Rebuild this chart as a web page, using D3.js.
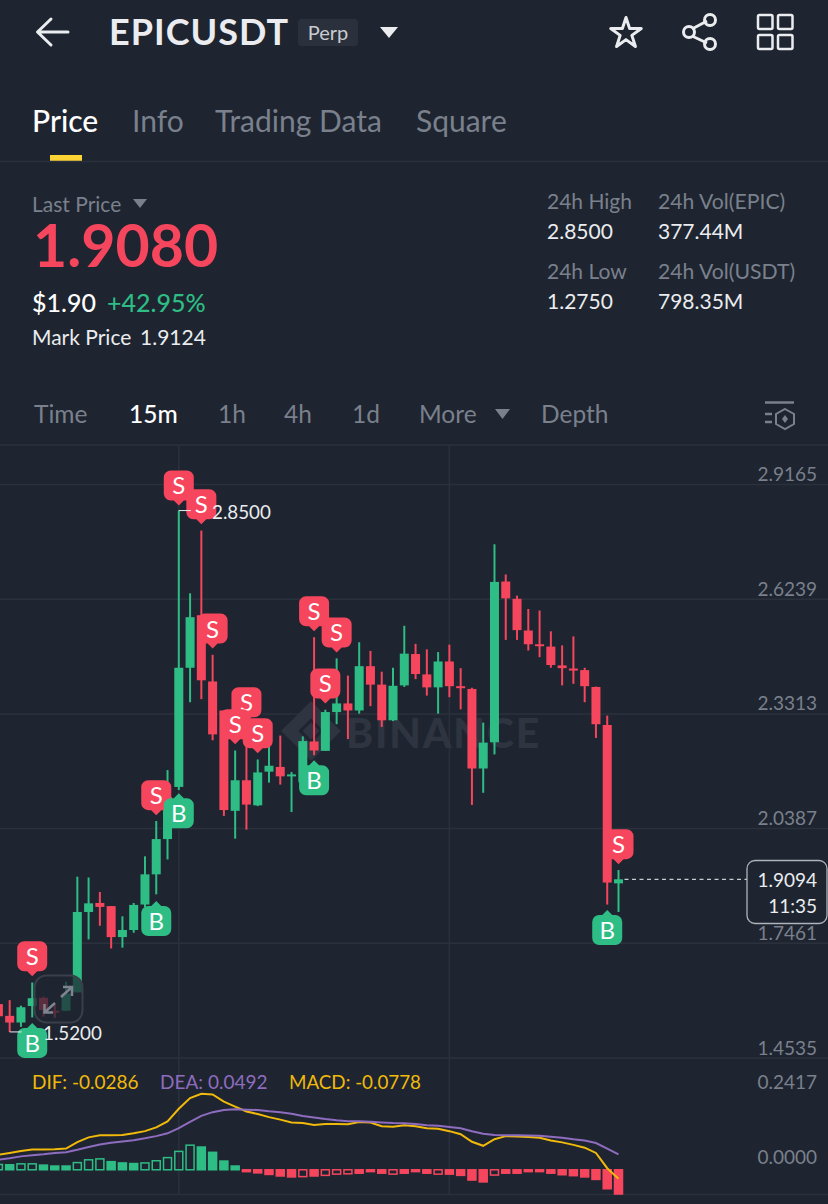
<!DOCTYPE html>
<html>
<head>
<meta charset="utf-8">
<script src="https://cdn.jsdelivr.net/npm/d3@7"></script>
<style>
  html, body { margin: 0; padding: 0; background: #1E2530; }
  svg { display: block; }
  text { font-family: "Lato", sans-serif; }
</style>
</head>
<body>
<svg></svg>
<script>
let candleOpen = [1.591,1.561,1.544,1.586,1.607,1.574,1.574,1.621,1.826,1.849,1.841,1.762,1.780,1.845,1.922,2.012,2.145,2.449,2.583,2.414,2.340,2.084,2.162,2.098,2.184,2.196,2.172,2.157,2.261,2.237,2.336,2.358,2.340,2.453,2.406,2.315,2.404,2.484,2.432,2.399,2.465,2.402,2.395,2.192,2.259,2.669,2.625,2.544,2.509,2.503,2.455,2.447,2.443,2.400,2.303,1.899];
let candleHigh = [1.599,1.601,1.587,1.646,1.610,1.589,1.648,1.916,1.914,1.877,1.841,1.815,1.849,1.968,2.058,2.188,2.850,2.639,2.799,2.482,2.340,2.238,2.256,2.215,2.247,2.276,2.183,2.274,2.527,2.342,2.473,2.429,2.514,2.492,2.439,2.449,2.556,2.510,2.496,2.489,2.508,2.448,2.398,2.309,2.764,2.687,2.633,2.599,2.595,2.542,2.506,2.529,2.449,2.401,2.327,1.933];
let candleLow = [1.553,1.520,1.533,1.557,1.559,1.556,1.574,1.621,1.756,1.791,1.733,1.735,1.773,1.838,1.871,1.960,2.137,2.361,2.369,2.264,2.071,2.013,2.036,2.096,2.156,2.151,2.081,2.157,2.226,2.237,2.305,2.267,2.332,2.351,2.298,2.313,2.400,2.420,2.378,2.332,2.374,2.343,2.099,2.130,2.228,2.520,2.520,2.493,2.476,2.449,2.404,2.408,2.361,2.270,1.845,1.826];
let candleClose = [1.560,1.544,1.583,1.606,1.576,1.571,1.618,1.826,1.848,1.839,1.762,1.780,1.844,1.922,2.012,2.119,2.449,2.578,2.417,2.279,2.086,2.162,2.100,2.182,2.199,2.172,2.177,2.262,2.238,2.336,2.358,2.340,2.453,2.406,2.315,2.403,2.485,2.433,2.399,2.465,2.402,2.397,2.192,2.258,2.668,2.626,2.545,2.509,2.505,2.456,2.448,2.442,2.402,2.305,1.901,1.9094];

let macdHist = [.017,.016,.019,.019,.015,.012,.012,.023,.032,.035,.026,.022,.020,.022,.029,.039,.059,.079,.073,.056,.028,.012,-.006,-.010,-.015,-.020,-.023,-.022,-.020,-.018,-.014,-.013,-.011,-.006,-.011,-.014,-.011,-.006,-.011,-.014,-.014,-.018,-.033,-.039,-.017,-.011,-.011,-.006,-.006,-.011,-.016,-.019,-.023,-.031,-.061,-.0778];
let macdHollow = [0,2,3,7,8,9,13,14,15,16,17,27,29,30,31,35,39,44];
let dif = [.048,.054,.060,.065,.065,.066,.068,.089,.104,.111,.111,.112,.117,.124,.136,.155,.196,.230,.244,.242,.219,.203,.187,.179,.169,.161,.152,.150,.144,.147,.147,.146,.153,.152,.140,.138,.143,.140,.133,.132,.124,.114,.090,.077,.098,.108,.107,.105,.103,.094,.088,.080,.071,.054,.005,-.0286];
let dea = [.032,.037,.043,.047,.050,.054,.056,.064,.073,.081,.087,.091,.095,.101,.108,.117,.134,.154,.173,.185,.192,.194,.193,.192,.188,.185,.180,.173,.168,.163,.159,.156,.156,.154,.152,.150,.149,.147,.143,.141,.137,.133,.124,.116,.112,.111,.111,.110,.109,.106,.103,.098,.094,.086,.068,.0492];

let priceTicks = [2.9165, 2.6239, 2.3313, 2.0387, 1.7461, 1.4535];
let macdTicks = [0.2417, 0];

// [type, candle index, price at the marker tip], in drawing order
let tradeMarkers = [
  ["S",3,1.662],["B",3,1.543],["S",14,2.073],["B",14,1.854],["S",16,2.863],["B",16,2.129],
  ["S",18,2.815],["S",19,2.498],["S",22,2.310],["S",21,2.254],["S",23,2.231],
  ["B",28,2.213],["S",28,2.542],["S",30,2.488],["S",29,2.358],["S",55,1.948],["B",54,1.831]
];

let tabs = [["Price",32],["Info",132],["Trading Data",215],["Square",416]];
let intervals = [["Time",34],["15m",129],["1h",218],["4h",284],["1d",352],["More",419],["Depth",541]];

let width = 828;
let height = 1204;

let red = "#F6465D";
let green = "#2EBD85";
let grid = "#2B313C";
let grey = "#7A808C";
let light = "#EAECEF";

let svg = d3.select("svg").attr("width", width).attr("height", height);

let xScale = d3.scaleLinear().domain([0, candleOpen.length - 1]).range([-1.6, 618.5]);
let yScale = d3.scaleLinear().domain([1.4535, 2.9165]).range([1058, 484.5]);
let macdScale = d3.scaleLinear().domain([-0.0778, 0.2417]).range([1194, 1094.5]);

let label = (str, x, y, size, color, opts = {}) => {
  // Lato sits a little low on its central baseline
  return svg.append("text")
    .attr("x", x)
    .attr("y", y - size * 0.02)
    .attr("dominant-baseline", "central")
    .attr("text-anchor", opts.anchor || "start")
    .attr("font-size", size)
    .attr("font-weight", opts.weight || 400)
    .attr("fill", color)
    .text(str);
};

let triangle = (x0, x1, y0, y1, color) => {
  svg.append("path")
    .attr("d", `M${x0},${y0}L${x1},${y0}L${(x0 + x1) / 2},${y1}Z`)
    .attr("fill", color);
};

let drawHeader = () => {
  svg.append("path")
    .attr("d", "M68,32H38M51,19L37.5,32L51,45")
    .attr("fill", "none").attr("stroke", light).attr("stroke-width", 3).attr("stroke-linecap", "round").attr("stroke-linejoin", "round");
  label("EPICUSDT", 109, 32, 36, light, {weight: 700}).attr("letter-spacing", 1);
  svg.append("rect").attr("x", 298).attr("y", 19).attr("width", 60).attr("height", 27).attr("rx", 4).attr("fill", "#2B313C");
  label("Perp", 328, 32.5, 20, "#C8CBD0", {anchor: "middle"});
  triangle(380, 398, 27, 38, light);

  // star, share and layout icons
  svg.append("path")
    .attr("d", d3.symbol(d3.symbolStar, 290)())
    .attr("transform", "translate(626,33.5)")
    .attr("fill", "none").attr("stroke", light).attr("stroke-width", 3).attr("stroke-linejoin", "round");
  svg.append("path")
    .attr("d", "M692,29L707,21M692,36L707,43")
    .attr("stroke", light).attr("stroke-width", 3);
  [[689,32],[710,20],[710,44]].forEach((c) => {
    svg.append("circle").attr("cx", c[0]).attr("cy", c[1]).attr("r", 5.5)
      .attr("fill", "none").attr("stroke", light).attr("stroke-width", 3);
  });
  [[758,15],[778,15],[758,35],[778,35]].forEach((c) => {
    svg.append("rect").attr("x", c[0]).attr("y", c[1]).attr("width", 14.5).attr("height", 14)
      .attr("rx", 1.5).attr("fill", "none").attr("stroke", light).attr("stroke-width", 2.5);
  });

  tabs.forEach((t, i) => label(t[0], t[1], 121, 30, i == 0 ? "#FFFFFF" : grey, {weight: i == 0 ? 500 : 400}));
  svg.append("rect").attr("x", 50).attr("y", 155).attr("width", 32).attr("height", 6).attr("fill", "#FCD535");
  svg.append("line").attr("x1", 0).attr("x2", width).attr("y1", 161.5).attr("y2", 161.5).attr("stroke", grid).attr("stroke-width", 1.5);
};

let drawStats = () => {
  label("Last Price", 32, 204, 21, grey);
  triangle(133, 147, 199, 208, grey);
  label("1.9080", 33, 246, 59, red, {weight: 700});
  label("$1.90", 32, 302, 25, "#FFFFFF", {weight: 500});
  label("+42.95%", 107, 302, 25, green, {weight: 500});
  label("Mark Price", 32, 337, 21, light);
  label("1.9124", 140, 337, 21, light);

  label("24h High", 547, 201, 21, grey);
  label("2.8500", 547, 231, 21, light);
  label("24h Low", 547, 271, 21, grey);
  label("1.2750", 547, 301, 21, light);
  label("24h Vol(EPIC)", 658, 201, 21.2, grey);
  label("377.44M", 658, 231, 21, light);
  label("24h Vol(USDT)", 658, 271, 21.2, grey);
  label("798.35M", 658, 301, 21, light);
};

let drawIntervals = () => {
  intervals.forEach((t) => label(t[0], t[1], 414, 24.5, t[0] == "15m" ? "#FFFFFF" : grey, {weight: t[0] == "15m" ? 500 : 400}));
  triangle(495, 510, 409, 419, grey);
  svg.append("path")
    .attr("d", "M765,402.5H794M765,414H772M765,422H772")
    .attr("stroke", grey).attr("stroke-width", 2.5);
  svg.append("path")
    .attr("d", "M785,409L794,414V424L785,429L776,424V414Z")
    .attr("fill", "none").attr("stroke", grey).attr("stroke-width", 2);
  svg.append("path").attr("d", "M785,415L788,419L785,423L782,419Z").attr("fill", grey);
};

let drawGrid = () => {
  let lines = [445].concat(priceTicks.map((d) => yScale(d)), [1194.5]);
  svg.selectAll("line.grid-h")
    .data(lines)
    .enter()
    .append("line")
    .attr("class", "grid-h")
    .attr("x1", 0).attr("x2", width)
    .attr("y1", (d) => d).attr("y2", (d) => d)
    .attr("stroke", grid).attr("stroke-width", 1.5);
  [16, 40].forEach((i) => {
    svg.append("line")
      .attr("x1", xScale(i)).attr("x2", xScale(i))
      .attr("y1", 445).attr("y2", 1194)
      .attr("stroke", grid).attr("stroke-width", 1.5);
  });

  // watermark sits under the candles
  label("BINANCE", 346, 733, 41, "#2E3440", {weight: 900}).attr("letter-spacing", 1.8);
  svg.append("g").attr("transform", "translate(311,731) rotate(45)")
    .selectAll("rect")
    .data([[-21,-21,42,12],[-21,-21,12,42],[9,-21,12,42],[-21,9,42,12],[-6,-6,12,12]])
    .enter()
    .append("rect")
    .attr("x", (d) => d[0]).attr("y", (d) => d[1])
    .attr("width", (d) => d[2]).attr("height", (d) => d[3])
    .attr("fill", "#2E3440");
};

let drawCandles = () => {
  let g = svg.append("g");
  let color = (i) => candleClose[i] >= candleOpen[i] ? green : red;
  g.selectAll("line")
    .data(candleOpen)
    .enter()
    .append("line")
    .attr("x1", (d, i) => xScale(i))
    .attr("x2", (d, i) => xScale(i))
    .attr("y1", (d, i) => yScale(candleHigh[i]))
    .attr("y2", (d, i) => yScale(candleLow[i]))
    .attr("stroke", (d, i) => color(i))
    .attr("stroke-width", 2);
  g.selectAll("rect")
    .data(candleOpen)
    .enter()
    .append("rect")
    .attr("x", (d, i) => xScale(i) - 4.5)
    .attr("width", 9)
    .attr("y", (d, i) => yScale(Math.max(d, candleClose[i])))
    .attr("height", (d, i) => Math.max(2, Math.abs(yScale(d) - yScale(candleClose[i]))))
    .attr("fill", (d, i) => color(i));
};

let markerPath = (type, x, tip) => {
  // rounded tag with a small point towards the candle
  let p = d3.path();
  let w = 15, r = 7, point = 5;
  if (type == "S") {
    let top = tip - 35, bot = tip - point;
    p.moveTo(x - w + r, top);
    p.arcTo(x + w, top, x + w, bot, r);
    p.arcTo(x + w, bot, x - w, bot, r);
    p.lineTo(x + point, bot);
    p.lineTo(x, tip);
    p.lineTo(x - point, bot);
    p.arcTo(x - w, bot, x - w, top, r);
    p.arcTo(x - w, top, x + w, top, r);
  } else {
    let top = tip + point, bot = tip + 35;
    p.moveTo(x - point, top);
    p.lineTo(x, tip);
    p.lineTo(x + point, top);
    p.arcTo(x + w, top, x + w, bot, r);
    p.arcTo(x + w, bot, x - w, bot, r);
    p.arcTo(x - w, bot, x - w, top, r);
    p.arcTo(x - w, top, x, top, r);
  }
  p.closePath();
  return p.toString();
};

let drawMarkers = () => {
  let groups = svg.append("g")
    .selectAll("g")
    .data(tradeMarkers)
    .enter()
    .append("g");
  groups.append("path")
    .attr("d", (d) => markerPath(d[0], xScale(d[1]), yScale(d[2])))
    .attr("fill", (d) => d[0] == "S" ? red : green);
  groups.append("text")
    .attr("x", (d) => xScale(d[1]))
    .attr("y", (d) => yScale(d[2]) + (d[0] == "S" ? -20.5 : 19.5))
    .attr("text-anchor", "middle")
    .attr("dominant-baseline", "central")
    .attr("font-size", 24)
    .attr("fill", "#FFFFFF")
    .text((d) => d[0]);
};

let drawExtremes = () => {
  let hi = yScale(2.85), lo = yScale(1.52);
  svg.append("line").attr("x1", xScale(16)).attr("x2", xScale(16) + 12).attr("y1", hi).attr("y2", hi).attr("stroke", light).attr("stroke-width", 1);
  label("2.8500", 212, hi + 1, 18.8, light);
  svg.append("line").attr("x1", xScale(1)).attr("x2", xScale(1) + 12).attr("y1", lo).attr("y2", lo).attr("stroke", light).attr("stroke-width", 1);
  label("1.5200", 43, lo + 1, 18.8, light);
};

let drawExpandButton = () => {
  svg.append("rect")
    .attr("x", 34.5).attr("y", 975.5).attr("width", 48).attr("height", 47).attr("rx", 12)
    .attr("fill", "#1E2530").attr("fill-opacity", 0.72)
    .attr("stroke", "#3A404B").attr("stroke-width", 2);
  svg.append("path")
    .attr("d", "M44.5,1012.5L55,1003M44.5,1004V1012.5H53M61,997L72,987M63,987H72V996")
    .attr("fill", "none").attr("stroke", "#7E848F").attr("stroke-width", 2.5);
};

let drawAxisLabels = () => {
  let priceAxis = d3.axisLeft(yScale)
    .tickValues(priceTicks)
    .tickSize(0)
    .tickPadding(0)
    .tickFormat(d3.format(".4f"));
  let macdAxis = d3.axisLeft(macdScale)
    .tickValues(macdTicks)
    .tickSize(0)
    .tickPadding(0)
    .tickFormat(d3.format(".4f"));
  [[priceAxis, -10], [macdAxis, -12]].forEach((a) => {
    let g = svg.append("g").attr("transform", `translate(817,${a[1]})`).call(a[0]);
    g.select(".domain").remove();
    g.selectAll("text")
      .attr("font-size", 19)
      .attr("font-family", "Lato, sans-serif")
      .attr("fill", grey);
  });
};

let drawLastPrice = () => {
  let y = yScale(1.9094);
  svg.append("line")
    .attr("x1", xScale(55) + 6).attr("x2", 747)
    .attr("y1", y).attr("y2", y)
    .attr("stroke", "#C8CBD0").attr("stroke-width", 1.2).attr("stroke-dasharray", "4,3.5");
  svg.append("rect")
    .attr("x", 747).attr("y", 860.5).attr("width", 80).attr("height", 63).attr("rx", 8)
    .attr("fill", "#1E2530").attr("stroke", "#B0B4BA").attr("stroke-width", 1.3);
  label("1.9094", 817, 880, 19, light, {anchor: "end"});
  label("11:35", 817, 906, 19, light, {anchor: "end"});
};

let drawMacd = () => {
  label("DIF: -0.0286", 32, 1082, 19, "#F0B90B");
  label("DEA: 0.0492", 160, 1082, 19, "#8E6CBF");
  label("MACD: -0.0778", 289, 1082, 18.8, "#F0B90B");

  svg.append("g")
    .selectAll("rect")
    .data(macdHist)
    .enter()
    .append("rect")
    .attr("x", (d, i) => xScale(i) - 4)
    .attr("width", 8)
    .attr("y", (d) => Math.min(macdScale(d), macdScale(0)))
    .attr("height", (d) => Math.max(1.5, Math.abs(macdScale(d) - macdScale(0))))
    .attr("fill", (d, i) => macdHollow.includes(i) ? "none" : (d >= 0 ? green : red))
    .attr("stroke", (d) => d >= 0 ? green : red)
    .attr("stroke-width", 1.5);

  let line = d3.line()
    .x((d, i) => xScale(i))
    .y((d) => macdScale(d));
  svg.append("path").attr("d", line(dif)).attr("fill", "none").attr("stroke", "#F0B90B").attr("stroke-width", 2);
  svg.append("path").attr("d", line(dea)).attr("fill", "none").attr("stroke", "#8E6CBF").attr("stroke-width", 2);
};

drawHeader();
drawStats();
drawIntervals();
drawGrid();
drawCandles();
drawMarkers();
drawExtremes();
drawExpandButton();
drawAxisLabels();
drawLastPrice();
drawMacd();
</script>
</body>
</html>
